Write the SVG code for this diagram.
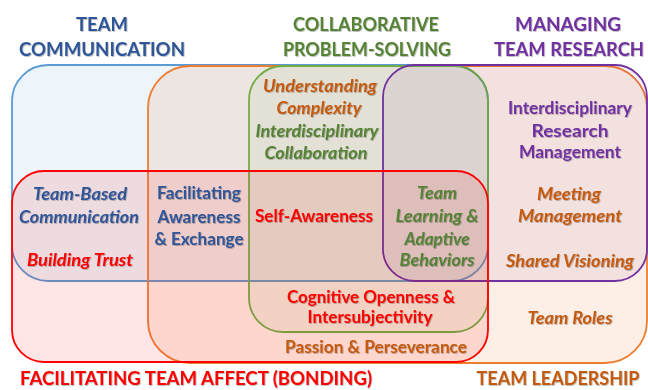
<svg xmlns="http://www.w3.org/2000/svg" width="648" height="390" viewBox="0 0 648 390">
<defs>
<filter id="sh" x="-2%" y="-10%" width="104%" height="125%">
<feDropShadow dx="0.8" dy="0.8" stdDeviation="0.6" flood-color="#000" flood-opacity="0.3"/>
</filter>
<style>
text{font-family:Lato,"Liberation Sans",sans-serif;font-weight:bold;text-anchor:middle;filter:url(#sh)}
.t{font-size:19px}
.l{font-size:16.5px}
.i{font-style:italic}
.blue{fill:#2f5597}.green{fill:#548235}.purple{fill:#7030a0}.red{fill:#ff0000}.orange{fill:#c55a11}
.set{stroke-width:1.8}
</style>
</defs>
<rect width="648" height="390" fill="#fff"/>
<g id="team-communication">
<rect class="set" x="12" y="65" width="476" height="216" rx="36" fill="#5b9bd5" fill-opacity="0.11" stroke="#5b9bd5"/>
<text class="t blue" x="102" y="31" textLength="52" lengthAdjust="spacingAndGlyphs">TEAM</text>
<text class="t blue" x="102" y="56" textLength="166" lengthAdjust="spacingAndGlyphs">COMMUNICATION</text>
</g>
<g id="team-leadership">
<rect class="set" x="148" y="66" width="499" height="297" rx="42" fill="#ed7d31" fill-opacity="0.12" stroke="#ed7d31"/>
<text class="t orange" x="558" y="385" textLength="163" lengthAdjust="spacingAndGlyphs">TEAM LEADERSHIP</text>
</g>
<g id="collaborative-problem-solving">
<rect class="set" x="249" y="66" width="239" height="266" rx="34" fill="#70ad47" fill-opacity="0.08" stroke="#70ad47"/>
<text class="t green" x="366" y="31" textLength="146" lengthAdjust="spacingAndGlyphs">COLLABORATIVE</text>
<text class="t green" x="367" y="56" textLength="168" lengthAdjust="spacingAndGlyphs">PROBLEM-SOLVING</text>
</g>
<g id="managing-team-research">
<rect class="set" x="383" y="65" width="264" height="216" rx="32" fill="#7030a0" fill-opacity="0.07" stroke="#7030a0"/>
<text class="t purple" x="568" y="31" textLength="106" lengthAdjust="spacingAndGlyphs">MANAGING</text>
<text class="t purple" x="569" y="56" textLength="150" lengthAdjust="spacingAndGlyphs">TEAM RESEARCH</text>
</g>
<g id="facilitating-team-affect">
<rect class="set" x="12" y="171" width="476" height="191" rx="32" fill="#ff0000" fill-opacity="0.1" stroke="#ff0000"/>
<text class="t red" x="196" y="385" textLength="352" lengthAdjust="spacingAndGlyphs">FACILITATING TEAM AFFECT (BONDING)</text>
</g>
<g id="labels">
<text class="l i orange" x="320" y="92" textLength="114" lengthAdjust="spacingAndGlyphs">Understanding</text>
<text class="l i orange" x="319" y="114" textLength="85" lengthAdjust="spacingAndGlyphs">Complexity</text>
<text class="l i green" x="317" y="137" textLength="123" lengthAdjust="spacingAndGlyphs">Interdisciplinary</text>
<text class="l i green" x="316" y="159" textLength="103" lengthAdjust="spacingAndGlyphs">Collaboration</text>
<text class="l purple" x="570" y="114" textLength="124" lengthAdjust="spacingAndGlyphs">Interdisciplinary</text>
<text class="l purple" x="570" y="137" textLength="77" lengthAdjust="spacingAndGlyphs">Research</text>
<text class="l purple" x="570" y="158" textLength="102" lengthAdjust="spacingAndGlyphs">Management</text>
<text class="l i orange" x="569" y="200" textLength="64" lengthAdjust="spacingAndGlyphs">Meeting</text>
<text class="l i orange" x="570" y="222" textLength="104" lengthAdjust="spacingAndGlyphs">Management</text>
<text class="l i orange" x="570" y="267" textLength="128" lengthAdjust="spacingAndGlyphs">Shared Visioning</text>
<text class="l i orange" x="570" y="324" textLength="85" lengthAdjust="spacingAndGlyphs">Team Roles</text>
<text class="l i blue" x="80" y="200" textLength="94" lengthAdjust="spacingAndGlyphs">Team-Based</text>
<text class="l i blue" x="79" y="223" textLength="120" lengthAdjust="spacingAndGlyphs">Communication</text>
<text class="l i red" x="80" y="266" textLength="106" lengthAdjust="spacingAndGlyphs">Building Trust</text>
<text class="l blue" x="199" y="199" textLength="84" lengthAdjust="spacingAndGlyphs">Facilitating</text>
<text class="l blue" x="199" y="223" textLength="83" lengthAdjust="spacingAndGlyphs">Awareness</text>
<text class="l blue" x="199" y="245" textLength="89" lengthAdjust="spacingAndGlyphs">&amp; Exchange</text>
<text class="l red" x="314" y="222" textLength="118" lengthAdjust="spacingAndGlyphs">Self-Awareness</text>
<text class="l i green" x="437" y="199" textLength="40" lengthAdjust="spacingAndGlyphs">Team</text>
<text class="l i green" x="437" y="222" textLength="83" lengthAdjust="spacingAndGlyphs">Learning &amp;</text>
<text class="l i green" x="437" y="245" textLength="65" lengthAdjust="spacingAndGlyphs">Adaptive</text>
<text class="l i green" x="437" y="266" textLength="75" lengthAdjust="spacingAndGlyphs">Behaviors</text>
<text class="l red" x="371" y="303" textLength="168" lengthAdjust="spacingAndGlyphs">Cognitive Openness &amp;</text>
<text class="l red" x="370" y="323" textLength="125" lengthAdjust="spacingAndGlyphs">Intersubjectivity</text>
<text class="l orange" x="376" y="353" textLength="182" lengthAdjust="spacingAndGlyphs">Passion &amp; Perseverance</text>
</g>
</svg>
